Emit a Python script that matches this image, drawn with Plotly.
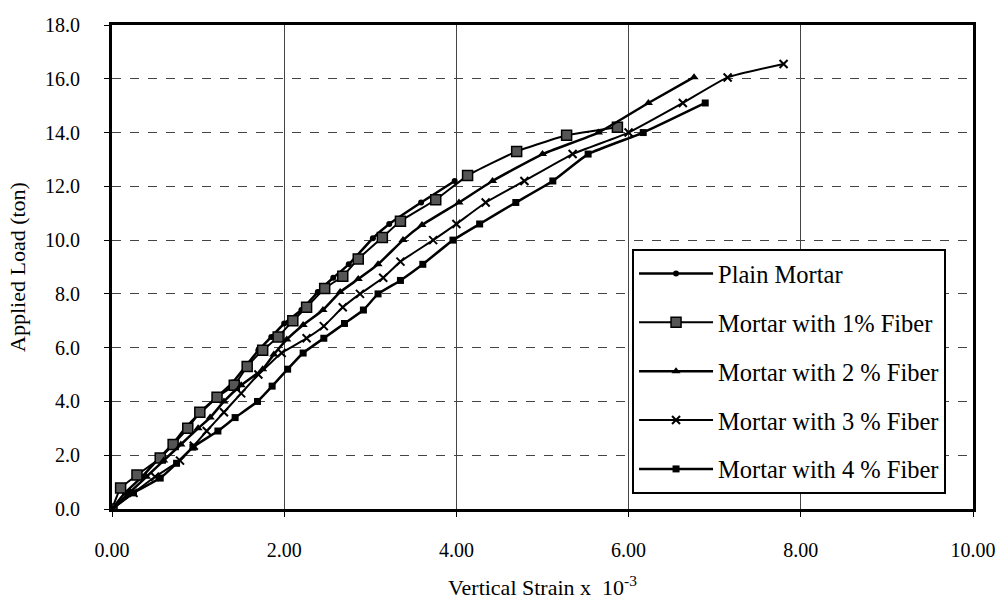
import plotly.graph_objects as go

names = ["Plain Mortar", "Mortar with 1% Fiber", "Mortar with 2 % Fiber",
         "Mortar with 3 % Fiber", "Mortar with 4 % Fiber"]

plain_x = [0, 0.15, 0.35, 0.55, 0.7, 0.85, 1.0, 1.2, 1.4, 1.55, 1.7, 1.85, 2.0, 2.2, 2.39, 2.57, 2.75, 3.03, 3.22, 3.59, 3.98]
plain_y = [0, 0.6, 1.2, 1.9, 2.4, 3.0, 3.5, 4.1, 4.7, 5.3, 5.9, 6.4, 6.9, 7.4, 8.07, 8.6, 9.1, 10.07, 10.6, 11.4, 12.2]

f1_x = [0, 0.1, 0.29, 0.56, 0.71, 0.88, 1.02, 1.22, 1.42, 1.57, 1.75, 1.93, 2.1, 2.26, 2.47, 2.68, 2.86, 3.14, 3.35, 3.76, 4.13, 4.7, 5.28, 5.87]
f1_y = [0, 0.78, 1.26, 1.9, 2.4, 3.0, 3.6, 4.16, 4.6, 5.3, 5.9, 6.4, 7.0, 7.5, 8.2, 8.66, 9.3, 10.1, 10.7, 11.5, 12.4, 13.3, 13.9, 14.2]

f2_x = [0, 0.2, 0.4, 0.6, 0.8, 1.0, 1.14, 1.3, 1.5, 1.75, 1.88, 2.03, 2.22, 2.45, 2.65, 2.86, 3.09, 3.38, 3.6, 4.03, 4.42, 5.0, 5.65, 6.23, 6.76]
f2_y = [0, 0.6, 1.2, 1.8, 2.4, 3.0, 3.4, 4.0, 4.6, 5.2, 5.75, 6.3, 6.84, 7.4, 8.07, 8.55, 9.1, 10.0, 10.56, 11.4, 12.2, 13.2, 14.0, 15.1, 16.06]

f3_x = [0, 0.25, 0.5, 0.79, 0.95, 1.1, 1.3, 1.5, 1.7, 1.97, 2.26, 2.46, 2.68, 2.88, 3.15, 3.35, 3.73, 4.0, 4.34, 4.79, 5.35, 6.0, 6.63, 7.15, 7.8]
f3_y = [0, 0.6, 1.2, 1.8, 2.35, 2.9, 3.6, 4.3, 5.0, 5.8, 6.35, 6.8, 7.5, 8.0, 8.6, 9.2, 10.0, 10.6, 11.4, 12.2, 13.2, 14.0, 15.1, 16.05, 16.55]

f4_x = [0, 0.25, 0.56, 0.75, 0.94, 1.23, 1.43, 1.69, 1.86, 2.04, 2.22, 2.46, 2.7, 2.92, 3.09, 3.35, 3.61, 3.96, 4.27, 4.69, 5.12, 5.53, 6.17, 6.89]
f4_y = [0, 0.6, 1.15, 1.7, 2.3, 2.9, 3.4, 4.0, 4.57, 5.2, 5.8, 6.35, 6.9, 7.4, 8.0, 8.5, 9.1, 10.0, 10.6, 11.4, 12.2, 13.2, 14.0, 15.1]

x_ticks = [0, 2, 4, 6, 8, 10]
y_ticks = [0, 2, 4, 6, 8, 10, 12, 14, 16, 18]

series = [(plain_x, plain_y), (f1_x, f1_y), (f2_x, f2_y), (f3_x, f3_y), (f4_x, f4_y)]
markers = [
    dict(symbol="circle", size=6, color="black"),
    dict(symbol="square", size=10, color="#555555", line=dict(color="black", width=1.5)),
    dict(symbol="triangle-up", size=8, color="black"),
    dict(symbol="x-thin", size=8, color="black", line=dict(color="black", width=2)),
    dict(symbol="square", size=7, color="black"),
]
widths = [2.5, 2, 2.5, 2, 2.5]

fig = go.Figure()
for i, ((xs, ys), nm) in enumerate(zip(series, names)):
    fig.add_trace(go.Scatter(x=xs, y=ys, name=nm, mode="lines+markers",
                             line=dict(color="black", width=widths[i], shape="spline", smoothing=0.4),
                             marker=markers[i], legendgroup=str(i)))

font_family = "Liberation Serif"
tick_font = dict(family=font_family, size=20, color="black")
fig.update_layout(
    width=1001, height=605,
    margin=dict(l=112, r=28, t=25, b=96),
    paper_bgcolor="white", plot_bgcolor="white",
    font=dict(family=font_family, size=20, color="black"),
    showlegend=True,
    legend=dict(x=0.604, y=0.537, xanchor="left", yanchor="top",
                bgcolor="white", bordercolor="black", borderwidth=2,
                font=dict(family=font_family, size=24.5, color="black"),
                tracegroupgap=14, itemwidth=74),
    xaxis=dict(range=[0, 10], tickvals=x_ticks, tickformat=".2f", tickfont=tick_font,
               showgrid=True, gridcolor="#444444", gridwidth=1,
               showline=True, linecolor="black", linewidth=3, mirror=True,
               ticks="outside", ticklen=5, tickcolor="black",
               ticklabelstandoff=16, zeroline=False, automargin=False,
               title=dict(text="Vertical Strain x  10<sup>-3</sup>", standoff=20,
                          font=dict(family=font_family, size=22))),
    yaxis=dict(range=[0, 18], tickvals=y_ticks, tickformat=".1f", tickfont=tick_font,
               showgrid=True, gridcolor="#444444", gridwidth=1, griddash="dash",
               showline=True, linecolor="black", linewidth=3, mirror=True,
               ticks="outside", ticklen=5, tickcolor="black",
               ticklabelstandoff=20, zeroline=False, automargin=False,
               title=dict(text="Applied Load (ton)", standoff=14,
                          font=dict(family=font_family, size=22))),
)

fig.write_html("out.html")
